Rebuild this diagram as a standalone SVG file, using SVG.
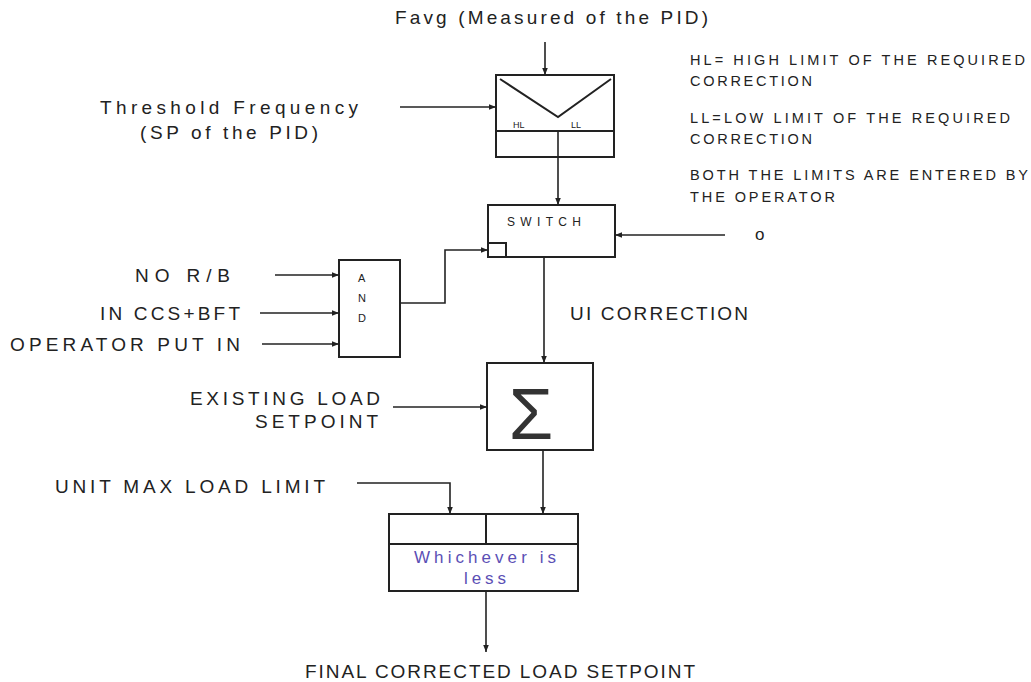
<svg xmlns="http://www.w3.org/2000/svg" width="1031" height="682" viewBox="0 0 1031 682">
<defs>
<marker id="ah" viewBox="0 0 10 10" refX="10" refY="5" markerWidth="7" markerHeight="7" orient="auto" markerUnits="userSpaceOnUse">
<path d="M0,1 L10,5 L0,9 Z" fill="#222"/>
</marker>
</defs>
<style>
.box{fill:#fff;stroke:#222;stroke-width:2}
.ln{fill:none;stroke:#222;stroke-width:2}
.ar{fill:none;stroke:#222;stroke-width:1.6;marker-end:url(#ah)}
.t{font-family:"Liberation Sans",Arial,sans-serif;font-size:19px;fill:#222}
.s{font-family:"Liberation Sans",Arial,sans-serif;font-size:14.5px;fill:#222}
.p{font-family:"Liberation Sans",Arial,sans-serif;font-size:17px;fill:#5b4fb5}
</style>
<rect width="1031" height="682" fill="#fff"/>

<g id="labels">
<text class="t" x="395" y="24" textLength="313" lengthAdjust="spacing">Favg (Measured of the PID)</text>
<text class="t" x="100" y="114" textLength="258" lengthAdjust="spacing">Threshold Frequency</text>
<text class="t" x="140" y="139" textLength="178" lengthAdjust="spacing">(SP of the PID)</text>
<text class="s" x="690" y="65" textLength="335" lengthAdjust="spacing">HL= HIGH LIMIT OF THE REQUIRED</text>
<text class="s" x="690" y="86" textLength="122" lengthAdjust="spacing">CORRECTION</text>
<text class="s" x="690" y="123" textLength="320" lengthAdjust="spacing">LL=LOW LIMIT OF THE REQUIRED</text>
<text class="s" x="690" y="144" textLength="122" lengthAdjust="spacing">CORRECTION</text>
<text class="s" x="690" y="180" textLength="338" lengthAdjust="spacing">BOTH THE LIMITS ARE ENTERED BY</text>
<text class="s" x="690" y="202" textLength="145" lengthAdjust="spacing">THE OPERATOR</text>
<text class="s" x="755" y="240" style="font-size:17px">o</text>
<text class="t" x="135" y="282" textLength="95" lengthAdjust="spacing">NO R/B</text>
<text class="t" x="100" y="320" textLength="140" lengthAdjust="spacing">IN CCS+BFT</text>
<text class="t" x="10" y="351" textLength="230" lengthAdjust="spacing">OPERATOR PUT IN</text>
<text class="t" x="570" y="320" textLength="178" lengthAdjust="spacing">UI CORRECTION</text>
<text class="t" x="190" y="405" textLength="190" lengthAdjust="spacing">EXISTING LOAD</text>
<text class="t" x="255" y="428" textLength="123" lengthAdjust="spacing">SETPOINT</text>
<text class="t" x="55" y="493" textLength="270" lengthAdjust="spacing">UNIT MAX LOAD LIMIT</text>
<text class="t" x="305" y="678" textLength="390" lengthAdjust="spacing">FINAL CORRECTED LOAD SETPOINT</text>
</g>

<g id="limiter">
<rect class="box" x="496" y="75" width="118" height="82"/>
<line class="ln" x1="496" y1="131" x2="614" y2="131"/>
<polyline class="ln" points="500,79 558,117 611,79" stroke="#444" stroke-width="1.6"/>
<text class="s" x="513" y="128" style="font-size:9px">HL</text>
<text class="s" x="571" y="128" style="font-size:9px">LL</text>
</g>

<g id="switch">
<rect class="box" x="488" y="205" width="127" height="52"/>
<rect class="box" x="488" y="243" width="18" height="14"/>
<text class="s" x="507" y="226" style="font-size:12px" textLength="74" lengthAdjust="spacing">SWITCH</text>
</g>

<g id="and">
<rect class="box" x="339" y="260" width="61" height="97"/>
<text class="s" x="358" y="282" style="font-size:11px">A</text>
<text class="s" x="358" y="302" style="font-size:11px">N</text>
<text class="s" x="358" y="322" style="font-size:11px">D</text>
</g>

<g id="sum">
<rect class="box" x="487" y="363" width="106" height="87"/>
<text x="531" y="439" text-anchor="middle" font-family="Liberation Sans, Arial, sans-serif" font-size="72" fill="#333">Σ</text>
</g>

<g id="min">
<rect class="box" x="389" y="514" width="189" height="77"/>
<line class="ln" x1="389" y1="544" x2="578" y2="544"/>
<line class="ln" x1="486" y1="514" x2="486" y2="544"/>
<text class="p" x="485" y="563" text-anchor="middle" textLength="142" lengthAdjust="spacing">Whichever is</text>
<text class="p" x="485" y="584" text-anchor="middle" textLength="42" lengthAdjust="spacing">less</text>
</g>

<g id="connectors">
<line class="ar" x1="545" y1="42" x2="545" y2="75"/>
<line class="ar" x1="400" y1="107" x2="496" y2="107"/>
<line class="ar" x1="558" y1="131" x2="558" y2="205"/>
<line class="ar" x1="725" y1="235" x2="615" y2="235"/>
<polyline class="ar" points="400,303 445,303 445,250 488,250"/>
<line class="ar" x1="275" y1="275" x2="339" y2="275"/>
<line class="ar" x1="260" y1="313" x2="339" y2="313"/>
<line class="ar" x1="262" y1="344" x2="339" y2="344"/>
<line class="ar" x1="544" y1="257" x2="544" y2="363"/>
<line class="ar" x1="393" y1="407" x2="487" y2="407"/>
<line class="ar" x1="543" y1="450" x2="543" y2="514"/>
<polyline class="ar" points="357,483 450,483 450,514"/>
<line class="ar" x1="486" y1="591" x2="486" y2="652"/>
</g>
</svg>
